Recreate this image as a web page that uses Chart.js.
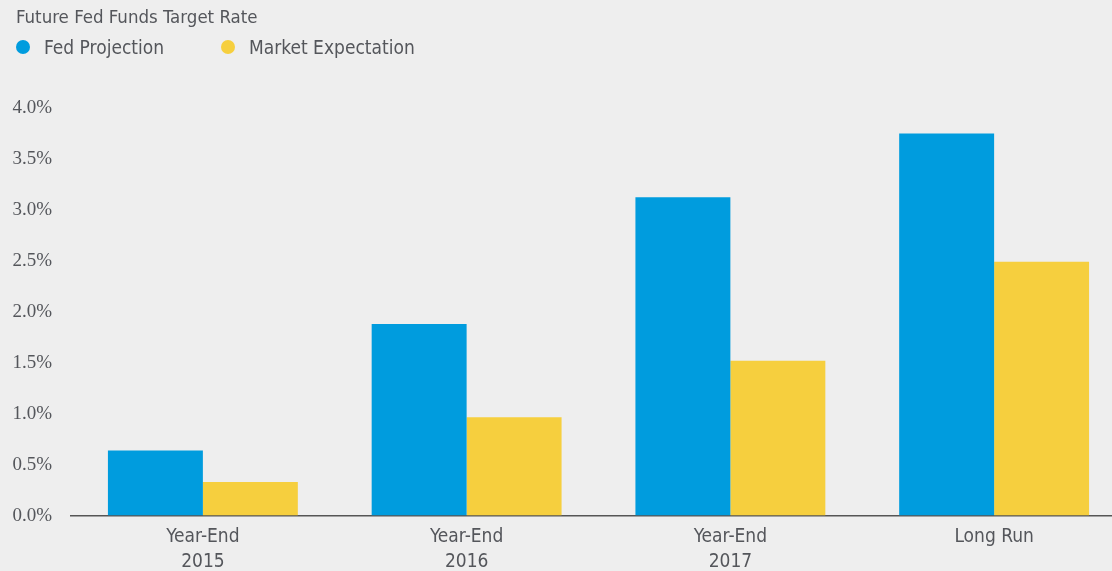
<!DOCTYPE html>
<html>
<head>
<meta charset="utf-8">
<script src="https://cdn.jsdelivr.net/npm/chart.js@4"></script>
<style>
  html, body { margin: 0; padding: 0; background: #eeeeee; overflow: hidden; }
  .wrap { width: 1126px; height: 583px; position: relative; }
  .head { position: absolute; left: 0; top: 0; font-family: 'DejaVu Sans Condensed', 'Roboto Condensed', 'Liberation Sans Narrow', Roboto, sans-serif; color: #54565b; }
  .title { position: absolute; left: 16px; top: 6px; font-size: 18.5px; white-space: nowrap; }
  .legend-item { position: absolute; top: 35px; font-size: 19px; white-space: nowrap; line-height: 24px; }
  .legend-item .dot { position: absolute; width: 14px; height: 14px; border-radius: 50%; top: 5px; }
</style>
</head>
<body>
<div class="wrap">
  <canvas id="chart"></canvas>
  <div class="head" id="head"><div class="title">Future Fed Funds Target Rate</div></div>
</div>
<script>
// chart data
const categories = [['Year-End', '2015'], ['Year-End', '2016'], ['Year-End', '2017'], 'Long Run'];
const seriesNames = ['Fed Projection', 'Market Expectation'];
const seriesColors = ['#009cde', '#f6cf3e'];
const fedProjection = [0.64, 1.88, 3.125, 3.75];
const marketExpectation = [0.33, 0.965, 1.52, 2.49];
const yTicks = [0, 0.5, 1, 1.5, 2, 2.5, 3, 3.5, 4];

const textColor = '#54565b';
const condensed = "'DejaVu Sans Condensed', 'Roboto Condensed', 'Liberation Sans Narrow', Roboto, sans-serif";

// legend drawn as html over the canvas
const head = document.getElementById('head');
const legendX = [16, 221];
seriesNames.forEach((name, i) => {
  const item = document.createElement('div');
  item.className = 'legend-item';
  item.style.left = legendX[i] + 'px';
  item.innerHTML = '<span class="dot" style="background:' + seriesColors[i] + '"></span>' +
    '<span style="padding-left:28px">' + name + '</span>';
  head.appendChild(item);
});

const ctx = document.getElementById('chart').getContext('2d');
new Chart(ctx, {
  type: 'bar',
  data: {
    labels: categories,
    datasets: [
      { label: seriesNames[0], data: fedProjection, backgroundColor: seriesColors[0], borderWidth: 0 },
      { label: seriesNames[1], data: marketExpectation, backgroundColor: seriesColors[1], borderWidth: 0 }
    ]
  },
  options: {
    responsive: true,
    maintainAspectRatio: false,
    animation: false,
    layout: { padding: { left: 0, top: 108, right: 0, bottom: 0 } },
    plugins: {
      legend: { display: false },
      tooltip: { enabled: false }
    },
    datasets: {
      bar: { categoryPercentage: 0.72, barPercentage: 1.0 }
    },
    scales: {
      x: {
        grid: { display: false, drawTicks: false },
        border: { display: true, color: '#555555', width: 1.5 },
        ticks: {
          color: textColor,
          font: { family: condensed, size: 19, lineHeight: 1.3 },
          padding: 9,
          maxRotation: 0
        }
      },
      y: {
        min: 0,
        max: 4,
        afterBuildTicks: (axis) => { axis.ticks = yTicks.map(v => ({ value: v })); },
        afterFit: (axis) => { axis.width = 71; },
        grid: { display: false, drawTicks: false },
        border: { display: false },
        ticks: {
          color: textColor,
          font: { family: "'Liberation Serif', 'DejaVu Serif', serif", size: 19 },
          padding: 19,
          callback: (value) => value.toFixed(1) + '%'
        }
      }
    }
  }
});
</script>
</body>
</html>
